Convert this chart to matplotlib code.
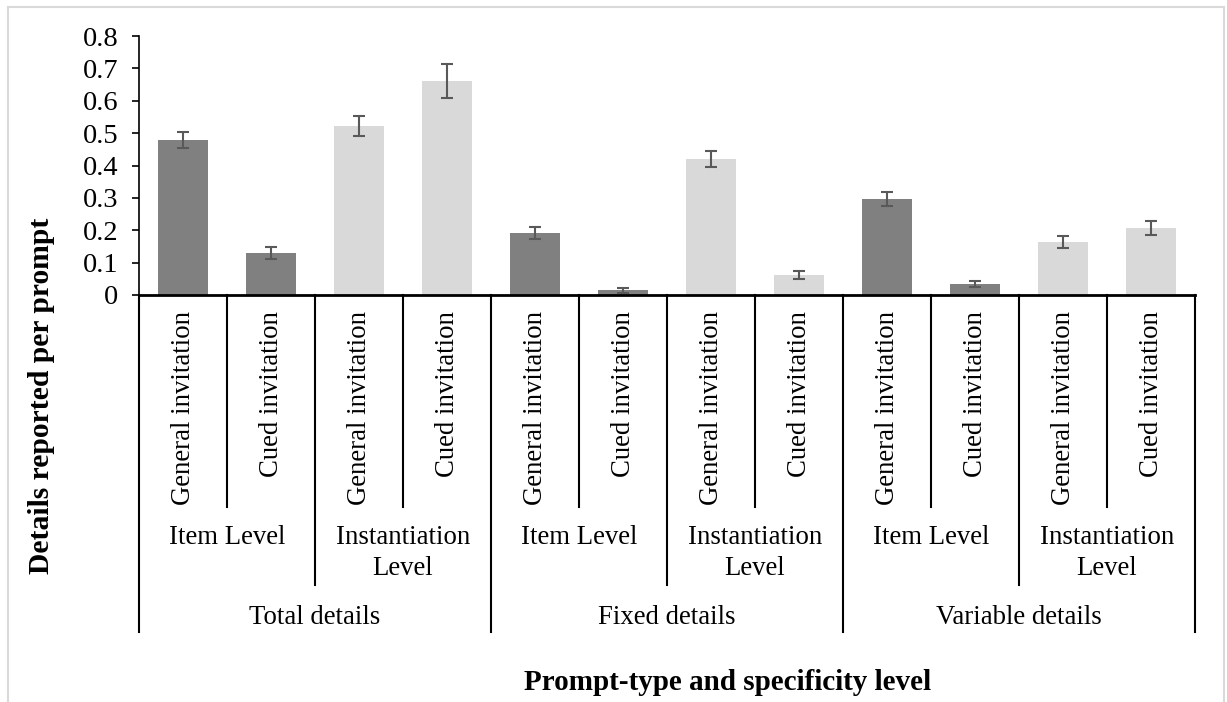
import matplotlib
matplotlib.use('Agg')
import matplotlib.pyplot as plt
import matplotlib.transforms as mtransforms
from matplotlib.patches import Rectangle

plt.rcParams['font.family'] = ['Liberation Serif', 'DejaVu Serif']

prompts = ['General invitation', 'Cued invitation'] * 6
levels = ['Item Level', 'Instantiation\nLevel'] * 3
groups = ['Total details', 'Fixed details', 'Variable details']

means = [0.479, 0.130, 0.522, 0.661, 0.192, 0.015,
         0.420, 0.062, 0.297, 0.034, 0.164, 0.207]
errs = [0.025, 0.019, 0.031, 0.053, 0.018, 0.008,
        0.025, 0.012, 0.021, 0.010, 0.019, 0.022]
shade = ['dark', 'dark', 'light', 'light'] * 3

colors = {'dark': '#808080', 'light': '#d9d9d9'}

W, H = 1227, 702
fig = plt.figure(figsize=(W / 100, H / 100), dpi=100)


def fy(py):
    return 1 - py / H


ax = fig.add_axes([139 / W, fy(295), (1195 - 139) / W, (295 - 36) / H])

x = list(range(len(means)))
ax.bar(x, means, width=0.57, color=[colors[s] for s in shade], zorder=2)
ax.errorbar(x, means, yerr=errs, fmt='none', ecolor='#595959',
            elinewidth=1.5, capsize=4.5, capthick=1.5, zorder=3)

ax.set_xlim(-0.5, len(means) - 0.5)
ax.set_ylim(0, 0.8)
ax.set_yticks([i / 10 for i in range(9)])
ax.set_yticklabels(['0'] + ['%.1f' % (i / 10) for i in range(1, 9)])
ax.tick_params(axis='y', labelsize=20.5, length=5, width=1.2, pad=10)
ax.set_xticks([])
for s in ['top', 'right']:
    ax.spines[s].set_visible(False)
ax.spines['left'].set_linewidth(1.2)
ax.spines['bottom'].set_linewidth(2)

# multi-level category axis
tr = mtransforms.blended_transform_factory(ax.transData, fig.transFigure)
y0 = fy(295)
for i in range(len(means) + 1):
    xe = i - 0.5
    if i % 4 == 0:
        yb = fy(632)
    elif i % 2 == 0:
        yb = fy(585)
    else:
        yb = fy(507)
    fig.add_artist(plt.Line2D([xe, xe], [y0, yb], transform=tr,
                              color='black', lw=1.5))

for i, p in enumerate(prompts):
    fig.text(i, fy(311), p, transform=tr, rotation=90, ha='center',
             va='top', fontsize=19.3)

for j, lv in enumerate(levels):
    fig.text(2 * j + 0.5, fy(525), lv, transform=tr, ha='center', va='top',
             fontsize=19.3, linespacing=1.3)

for k, g in enumerate(groups):
    fig.text(4 * k + 1.5, fy(617), g, transform=tr, ha='center',
             va='center', fontsize=19.3)

fig.text(42 / W, fy(396), 'Details reported per prompt', rotation=90,
         ha='center', va='center', fontsize=21.3, fontweight='bold')
fig.text(728 / W, fy(683), 'Prompt-type and specificity level',
         ha='center', va='center', fontsize=21, fontweight='bold')

fig.add_artist(Rectangle((8 / W, -0.05), (1224 - 8) / W, fy(7) + 0.05,
                         transform=fig.transFigure, fill=False,
                         edgecolor='#d9d9d9', lw=1.5))

fig.savefig('out.png', dpi=100)
